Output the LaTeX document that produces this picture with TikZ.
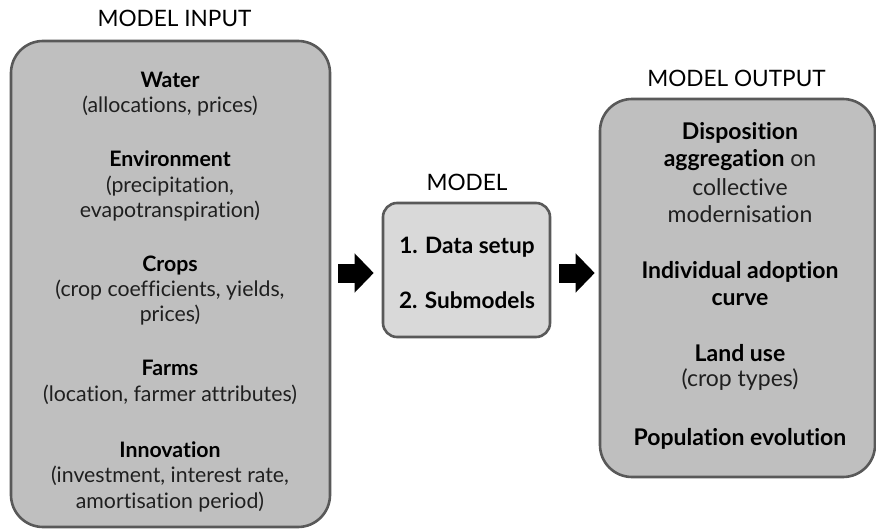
\documentclass[tikz,border=0pt]{standalone}
\usepackage{fontspec}
\setmainfont{Lato}[Ligatures=NoCommon]
\usetikzlibrary{arrows.meta}
\definecolor{boxfill}{HTML}{BFBFBF}
\definecolor{midfill}{HTML}{D9D9D9}
\definecolor{boxline}{HTML}{595959}
\definecolor{softtext}{HTML}{1F1F1F}
\tikzset{
  bigbox/.style={draw=boxline, line width=2.6pt, fill=boxfill, rounded corners=32pt},
  midbox/.style={draw=boxline, line width=2.6pt, fill=midfill, rounded corners=14pt},
  head/.style={anchor=base, inner sep=0pt, font=\fontsize{22.6}{27}\selectfont},
  bt/.style={anchor=base, inner sep=0pt, font=\fontsize{21.3}{25}\selectfont\bfseries},
  rt/.style={anchor=base, inner sep=0pt, text=softtext, font=\fontsize{21.3}{25}\selectfont},
  btr/.style={bt, font=\fontsize{23}{27}\selectfont\bfseries},
  rtr/.style={rt, font=\fontsize{23}{27}\selectfont},
  btm/.style={bt, font=\fontsize{22.6}{27}\selectfont\bfseries},
  fat/.style={line width=19pt, line cap=butt, -{Triangle[length=19pt,width=38pt]}},
}
\begin{document}
\begin{tikzpicture}[x=1pt,y=-1pt]
\useasboundingbox (0,0) rectangle (876,530);
\clip (0,0) rectangle (876,530);
% boxes
\node[bigbox, minimum width=319pt, minimum height=486pt] (input) at (170.5,284) {};
\node[midbox, minimum width=167pt, minimum height=134pt] (model) at (466.5,270) {};
\node[bigbox, minimum width=275pt, minimum height=378pt] (output) at (737.5,288) {};
% headings
\node[head] (hin) at (174.5,26.7) {MODEL INPUT};
\node[head] (hmod) at (467,190.7) {MODEL};
\node[head] (hout) at (736.5,86) {MODEL OUTPUT};
% input text
\node[bt] (i1) at (170,87) {Water};
\node[rt] (i2) at (170,112.7) {(allocations, prices)};
\node[bt] (i3) at (170,166.7) {Environment};
\node[rt] (i4) at (170,192.7) {(precipitation,};
\node[rt] (i5) at (170,217.5) {evapotranspiration)};
\node[bt] (i6) at (170,271) {Crops};
\node[rt] (i7) at (170,296.7) {(crop coefficients, yields,};
\node[rt] (i8) at (170,321.7) {prices)};
\node[bt] (i9) at (170,375.7) {Farms};
\node[rt] (i10) at (170,401.7) {(location, farmer attributes)};
\node[bt] (i11) at (170,457) {Innovation};
\node[rt] (i12) at (170,482.7) {(investment, interest rate,};
\node[rt] (i13) at (170,508) {amortisation period)};
% model text
\node[btm] (m1) at (467,253) {1. Data setup};
\node[btm] (m2) at (467,308) {2. Submodels};
% output text
\node[btr] (o1) at (740,139) {Disposition};
\node[rtr] (o2) at (740,166.7) {\textbf{\color{black}aggregation} on};
\node[rtr] (o3) at (740,195) {collective};
\node[rtr] (o4) at (740,222.7) {modernisation};
\node[btr] (o5) at (740,278) {Individual adoption};
\node[btr] (o6) at (740,305) {curve};
\node[btr] (o7) at (740,361.7) {Land use};
\node[rtr] (o8) at (740,386.7) {(crop types)};
\node[btr] (o9) at (740,445) {Population evolution};
% arrows
\coordinate (a1s) at ([yshift=-3pt]input.east |- model.west);
\coordinate (a2s) at ([yshift=-3pt]model.east);
\draw[fat, shorten <=7pt, shorten >=8pt] (a1s) -- (a1s -| model.west);
\draw[fat, shorten <=8pt, shorten >=4pt] (a2s) -- (a2s -| output.west);
\end{tikzpicture}
\end{document}
